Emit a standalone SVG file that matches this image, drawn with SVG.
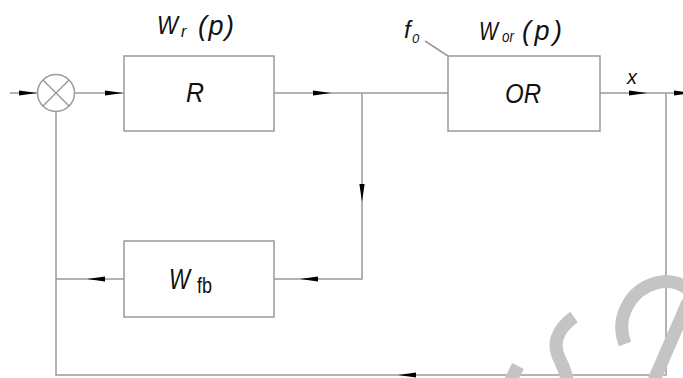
<svg xmlns="http://www.w3.org/2000/svg" xmlns:xlink="http://www.w3.org/1999/xlink" width="683" height="378" viewBox="0 0 683 378">
  <style>
    .ln { fill: none; stroke: #9a9a9a; stroke-width: 1.5; }
    .box { fill: #ffffff; stroke: #9a9a9a; stroke-width: 1.5; }
    .lbl { font-family: "Liberation Sans", Arial, sans-serif; font-style: italic; fill: #111111; }
    .up { font-style: normal; }
    .wm { fill: none; stroke: #c4c4c4; stroke-width: 13; }
  </style>
  <defs>
    <!-- slim arrowhead, tip at the origin, pointing along +x -->
    <path id="ah" d="M0,0 L-18,-2.6 L-18,2.6 Z" fill="#000000"/>
  </defs>

  <!-- connectors -->
  <g id="connectors">
    <line class="ln" x1="10" y1="93" x2="38" y2="93"/>
    <line class="ln" x1="75" y1="93" x2="124" y2="93"/>
    <line class="ln" x1="274" y1="93" x2="448" y2="93"/>
    <polyline class="ln" points="362,93 362,279 274,279"/>
    <polyline class="ln" points="124,279 56,279"/>
    <polyline class="ln" points="56,112 56,375 666,375 666,93"/>
    <line class="ln" x1="600" y1="93" x2="683" y2="93"/>
    <line class="ln" x1="425" y1="41" x2="448" y2="56"/>

    <use xlink:href="#ah" transform="translate(37,93)"/>
    <use xlink:href="#ah" transform="translate(123,93)"/>
    <use xlink:href="#ah" transform="translate(331,93)"/>
    <use xlink:href="#ah" transform="translate(362,202) rotate(90)"/>
    <use xlink:href="#ah" transform="translate(300,279) rotate(180)"/>
    <use xlink:href="#ah" transform="translate(87,279) rotate(180)"/>
    <use xlink:href="#ah" transform="translate(398,375) rotate(180)"/>
    <use xlink:href="#ah" transform="translate(647,93)"/>
    <use xlink:href="#ah" transform="translate(692,93)"/>
  </g>

  <!-- summing junction -->
  <g id="sum">
    <circle class="ln" cx="56" cy="93" r="18.5"/>
    <line class="ln" x1="43" y1="80" x2="69" y2="106"/>
    <line class="ln" x1="69" y1="80" x2="43" y2="106"/>
  </g>

  <!-- controller -->
  <g id="controller">
    <rect class="box" x="124" y="56" width="150" height="75"/>
    <text class="lbl" x="186" y="102" font-size="27" textLength="18" lengthAdjust="spacingAndGlyphs">R</text>
    <text class="lbl" font-size="26"><tspan x="157" y="34" textLength="21" lengthAdjust="spacingAndGlyphs">W</tspan><tspan x="181" y="37" font-size="16">r</tspan><tspan x="198" y="35" font-size="27" textLength="36" lengthAdjust="spacing">(p)</tspan></text>
  </g>

  <!-- controlled object -->
  <g id="object">
    <rect class="box" x="448" y="56" width="152" height="75"/>
    <text class="lbl" x="505" y="103" font-size="27" textLength="36" lengthAdjust="spacingAndGlyphs">OR</text>
    <text class="lbl" font-size="25"><tspan x="479" y="40" textLength="19" lengthAdjust="spacingAndGlyphs">W</tspan><tspan x="502" y="42" font-size="16" textLength="12" lengthAdjust="spacingAndGlyphs">or</tspan><tspan x="522" y="40" font-size="27" textLength="40" lengthAdjust="spacing">(p)</tspan></text>
    <text class="lbl" font-size="24"><tspan x="404" y="38">f</tspan><tspan x="412" y="43" font-size="13">0</tspan></text>
  </g>

  <!-- feedback block -->
  <g id="feedback">
    <rect class="box" x="124" y="241" width="150" height="76"/>
    <text class="lbl" font-size="29"><tspan x="169" y="289" textLength="21" lengthAdjust="spacingAndGlyphs">W</tspan><tspan class="up" x="197" y="293" font-size="22" textLength="15" lengthAdjust="spacingAndGlyphs">fb</tspan></text>
  </g>

  <!-- output label -->
  <g id="output">
    <text class="lbl" x="627" y="84" font-size="20">x</text>
  </g>

  <!-- light grey brush strokes, lower right -->
  <g id="strokes">
    <path class="wm" d="M574,317 C556,330 552,345 560,360 C564,368 566,374 567,380"/>
    <path class="wm" d="M625,344 C615,318 630,290 656,283 C670,279 683,284 692,292"/>
    <path class="wm" d="M688,302 L654,380"/>
    <path class="wm" d="M518,366 L507,388"/>
  </g>
</svg>
